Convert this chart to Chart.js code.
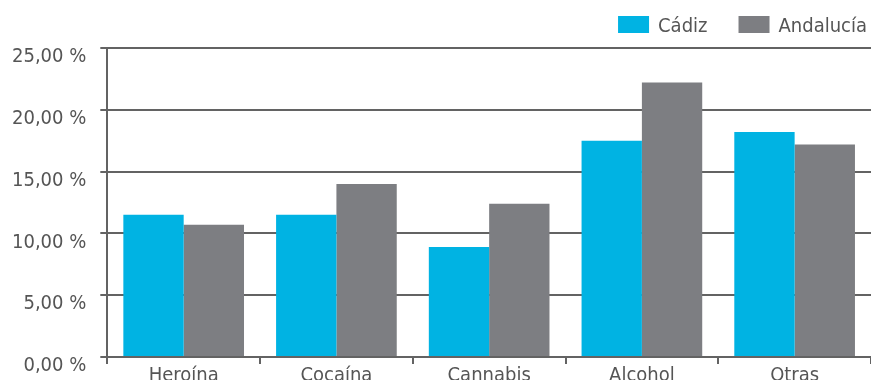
<!DOCTYPE html>
<html>
<head>
    <title>Cádiz vs Andalucía</title>
    <script src="https://cdn.jsdelivr.net/npm/chart.js"></script>
    <style>
        body { margin: 0; background: #fff; }
        #wrap { width: 871px; height: 380px; }
    </style>
</head>
<body>
    <div id="wrap"><canvas id="drugChart"></canvas></div>
    <script>
        const categories = ['Heroína', 'Cocaína', 'Cannabis', 'Alcohol', 'Otras'];
        const cadiz = [11.5, 11.5, 8.9, 17.5, 18.2];
        const andalucia = [10.7, 14.0, 12.4, 22.2, 17.2];
        const yTicks = [0, 5, 10, 15, 20, 25];

        const axisColor = '#636363';
        const textColor = '#555555';
        const fontFamily = '"DejaVu Sans Condensed", sans-serif';

        // legend drawn by hand so spacing matches (right aligned, wide gaps)
        const topLegend = {
            id: 'topLegend',
            afterDraw(chart) {
                const c = chart.ctx;
                c.save();
                c.font = '20px ' + fontFamily;
                c.textBaseline = 'middle';
                let x = chart.width - 4;
                const sets = chart.data.datasets.slice().reverse();
                sets.forEach(ds => {
                    const w = c.measureText(ds.label).width;
                    x -= w;
                    c.fillStyle = textColor;
                    c.fillText(ds.label, x, 27);
                    x -= 9 + 31;
                    c.fillStyle = ds.backgroundColor;
                    c.fillRect(x, 16, 31, 17);
                    x -= 31;
                });
                c.restore();
            }
        };

        const ctx = document.getElementById('drugChart').getContext('2d');
        new Chart(ctx, {
            type: 'bar',
            data: {
                labels: categories,
                datasets: [{
                    label: 'Cádiz',
                    data: cadiz,
                    backgroundColor: '#00b3e3',
                }, {
                    label: 'Andalucía',
                    data: andalucia,
                    backgroundColor: '#7d7e82',
                }]
            },
            plugins: [topLegend],
            options: {
                responsive: true,
                maintainAspectRatio: false,
                animation: false,
                layout: { padding: { left: -2, right: 0, top: 48, bottom: 0 } },
                datasets: { bar: { categoryPercentage: 0.79, barPercentage: 1.0 } },
                plugins: {
                    legend: { display: false },
                    tooltip: { enabled: false }
                },
                scales: {
                    x: {
                        afterFit: axis => { axis.height = 23; },
                        grid: {
                            offset: true,
                            drawOnChartArea: false,
                            color: axisColor,
                            lineWidth: 2,
                            tickLength: 7
                        },
                        border: { color: axisColor, width: 2 },
                        ticks: {
                            color: textColor,
                            padding: 0,
                            font: { family: fontFamily, size: 20 }
                        }
                    },
                    y: {
                        min: 0,
                        max: 25,
                        afterBuildTicks: axis => { axis.ticks = yTicks.map(v => ({ value: v })); },
                        grid: {
                            color: axisColor,
                            lineWidth: 2,
                            tickLength: 7
                        },
                        border: { color: axisColor, width: 2 },
                        ticks: {
                            color: textColor,
                            padding: 14,
                            labelOffset: 9,
                            // small lineHeight so the axis asks for less bottom room
                            font: { family: fontFamily, size: 20, lineHeight: 0.5 },
                            callback: v => v.toFixed(2).replace('.', ',') + ' %'
                        }
                    }
                }
            }
        });
    </script>
</body>
</html>
